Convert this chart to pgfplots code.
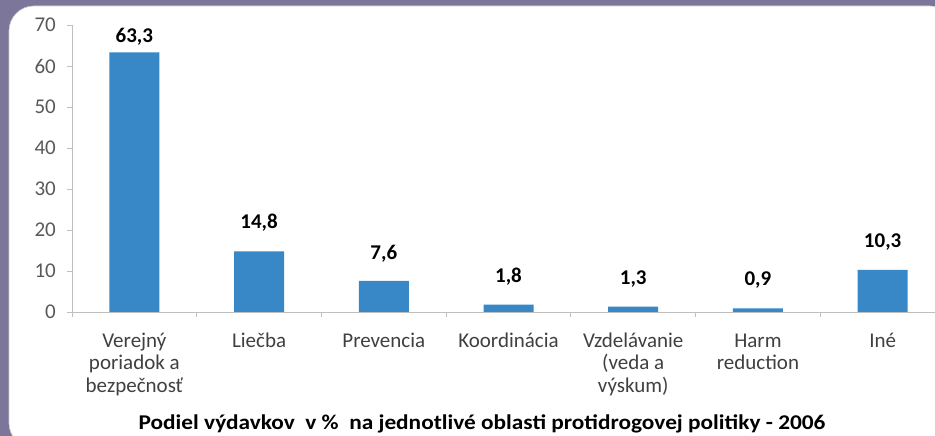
\documentclass[border=0pt]{standalone}
\usepackage{pgfplots}
\pgfplotsset{compat=1.18}
\usepackage{pgfplotstable}
\usepackage{fontspec}
\setmainfont{Carlito}
\newfontfamily\titlefont{Carlito}[FakeStretch=1.11]
\definecolor{bg}{RGB}{124,118,154}
\definecolor{barblue}{RGB}{56,136,200}
\definecolor{axgray}{RGB}{191,191,191}
\definecolor{lblgray}{RGB}{89,89,89}
\definecolor{catgray}{RGB}{64,64,64}
\pgfplotstableread{
x y lab off
0 63.3 63,3 10
1 14.8 14,8 22.5
2 7.6 7,6 21
3 1.8 1,8 22.5
4 1.3 1,3 22.5
5 0.9 0,9 22.5
6 10.3 10,3 22.5
}\data
\newcommand{\fs}{\fontsize{21bp}{21bp}\selectfont}
\newcommand{\fsc}{\fontsize{21bp}{22.5bp}\selectfont}
\newcommand{\st}{\rule{0pt}{17bp}}
\begin{document}
\begin{tikzpicture}[x=1bp,y=1bp]
\fill[bg] (0,0) rectangle (935,436);
\fill[white, draw=gray!40, line width=0.6bp, rounded corners=25bp] (9,-12) rectangle (955,430);
\begin{axis}[
  at={(72bp,124bp)}, anchor=south west,
  scale only axis, width=873bp, height=287bp,
  xmin=-0.5, xmax=6.5, ymin=0, ymax=70,
  axis x line*=bottom, axis y line*=left,
  axis line style={draw=axgray, line width=0.9bp},
  tick align=outside,
  major tick length=5bp,
  tick style={draw=axgray, line width=0.9bp},
  ytick={0,10,...,70},
  /pgf/number format/assume math mode=true,
  yticklabel style={font=\fs, text=lblgray, inner sep=0pt, anchor=east, xshift=-11bp},
  xtick={-0.5,0.5,...,6.5},
  xticklabels={},
  extra x ticks={0,1,2,3,4,5,6},
  extra x tick labels={{\st Verejný\\poriadok a\\bezpečnosť}, {\st Liečba}, {\st Prevencia}, {\st Koordinácia}, {\st Vzdelávanie\\(veda a\\výskum)}, {\st Harm\\reduction}, {\st Iné}},
  extra x tick style={major tick length=0pt, xticklabel style={anchor=north, align=center, font=\fsc, text=catgray, inner sep=0pt, yshift=-18bp}},
  ybar, bar width=50bp,
  nodes near coords,
  point meta=explicit symbolic,
  visualization depends on={\thisrow{off} \as \myoff},
  every node near coord/.append style={anchor=base, inner sep=0pt, font=\bfseries\fs, text=black, yshift=\myoff bp},
]
\addplot[fill=barblue, draw=none] table[x=x, y=y, meta=lab] {\data};
\end{axis}
\node[font=\titlefont\bfseries\fontsize{21bp}{24bp}\selectfont, anchor=base, text=black] at (482,6) {Podiel výdavkov~ v \%~ na jednotlivé oblasti protidrogovej politiky - 2006};
\pgfresetboundingbox
\useasboundingbox (0,0) rectangle (935,436);
\end{tikzpicture}
\end{document}
